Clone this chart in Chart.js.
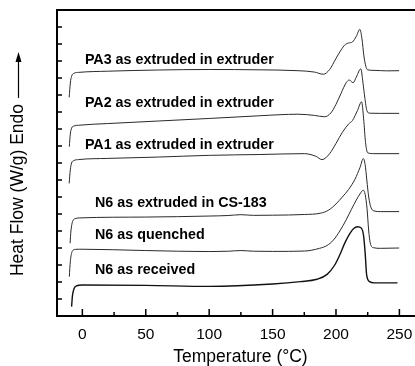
<!DOCTYPE html>
<html>
<head>
<meta charset="utf-8">
<title>DSC curves</title>
<script src="https://cdn.jsdelivr.net/npm/chart.js@4.4.1/dist/chart.umd.min.js"></script>
<style>
    html, body { margin: 0; padding: 0; background: #fff; }
    #dscChart { display: block; }
</style>
</head>
<body>
<canvas id="dscChart" width="415" height="366"></canvas>
<script>
// --- Data (temperature in C / stacked heat flow units) ---

const tempPA3 = [-10.4, -9.5, -8.5, -6.5, -3, 20, 60, 100, 140, 170, 183, 190, 195, 200, 204, 207, 210, 213, 216, 218.8, 220.5, 222, 223.5, 225, 230, 240, 249.8];
const flowPA3 = [12.86, 13.7, 14.1, 14.28, 14.33, 14.4, 14.47, 14.5, 14.48, 14.43, 14.35, 14.22, 14.5, 15.15, 15.65, 15.95, 16.06, 16.12, 16.45, 16.86, 16.3, 15.3, 14.7, 14.48, 14.45, 14.42, 14.43];

const tempPA2 = [-10.3, -9.5, -8.5, -6.5, -3, 20, 60, 100, 140, 170, 183, 191, 196, 200, 204, 208, 210.5, 213.5, 216, 219.6, 221.3, 222.8, 224.3, 226.5, 235, 249.8];
const flowPA2 = [9.96, 10.7, 11.05, 11.18, 11.22, 11.32, 11.47, 11.62, 11.78, 11.87, 11.8, 11.72, 11.95, 12.45, 13.1, 13.72, 13.88, 13.72, 14.05, 14.54, 13.7, 12.8, 12.1, 11.93, 11.92, 11.92];

const tempPA1 = [-10.4, -9.5, -8.5, -6.5, -3, 20, 60, 100, 140, 175, 184, 189, 195, 200, 205, 210, 213, 217, 220.2, 221.8, 223.3, 225, 230, 249.8];
const flowPA1 = [7.8, 8.6, 9.0, 9.15, 9.2, 9.27, 9.35, 9.45, 9.5, 9.55, 9.4, 9.2, 9.55, 10.15, 10.8, 11.3, 11.5, 12.1, 12.6, 11.6, 10.2, 9.6, 9.55, 9.55];

const tempN6ext = [-9.7, -9, -7.5, -5, -2, 50, 100, 115, 125, 135, 150, 175, 188, 194, 200, 205, 210, 215, 219, 221.5, 223, 224.3, 225.8, 227.5, 230, 235, 249.8];
const flowN6ext = [4.28, 5.0, 5.6, 5.74, 5.77, 5.82, 5.88, 5.91, 5.96, 5.92, 5.93, 5.97, 6.05, 6.22, 6.59, 7.0, 7.45, 8.05, 8.75, 9.26, 8.9, 8.0, 7.0, 6.4, 6.18, 6.14, 6.14];

const tempN6que = [-10.3, -9.5, -8, -5.5, -2, 50, 100, 115, 125, 135, 150, 175, 187, 193, 198, 203, 208, 212, 216, 219.5, 221.5, 223, 224.5, 225.8, 227, 229.5, 235, 249.8];
const flowN6que = [2.31, 3.2, 3.8, 3.92, 3.93, 3.85, 3.79, 3.81, 3.85, 3.81, 3.8, 3.82, 3.98, 4.15, 4.47, 5.0, 5.65, 6.25, 6.82, 7.25, 7.4, 7.15, 6.3, 5.0, 4.3, 4.02, 3.98, 4.0];

const tempN6rec = [-8.5, -7.8, -6.5, -4.5, 0, 50, 100, 150, 172, 185, 193, 199, 203, 207, 211, 214, 217, 220, 221.8, 223, 224.2, 226.5, 230, 248.5];
const flowN6rec = [0.55, 1.2, 1.62, 1.78, 1.82, 1.8, 1.74, 1.88, 2.02, 2.16, 2.45, 3.0, 3.6, 4.3, 4.86, 5.15, 5.25, 5.17, 4.7, 3.7, 2.4, 2.02, 1.95, 1.95];

const curveLabels = [
    "PA3 as extruded in extruder",
    "PA2 as extruded in extruder",
    "PA1 as extruded in extruder",
    "N6 as extruded in CS-183",
    "N6 as quenched",
    "N6 as received"
];
// anchor of each label, in data units (left edge, vertical middle)
const labelTemp = [2, 2, 2, 10, 10, 10];
const labelFlow = [15.06, 12.51, 10.06, 6.63, 4.76, 2.71];

const xMajorTicks = [0, 50, 100, 150, 200, 250];
const xMinorTicks = [25, 75, 125, 175, 225];
const yTickCount = 18;

// --- Helpers ---

const FONT = '"Liberation Sans", Arial, Helvetica, sans-serif';

function toPoints(xs, ys) {
    return xs.map((x, i) => ({ x: x, y: ys[i] }));
}

function curve(xs, ys, width, color) {
    return {
        data: toPoints(xs, ys),
        borderColor: color,
        borderWidth: width,
        pointRadius: 0,
        fill: false,
        cubicInterpolationMode: 'monotone'
    };
}

// inward ticks, top frame line, curve labels and axis titles
const decorations = {
    id: 'decorations',
    afterDraw(chart) {
        const { ctx, chartArea: a, scales: { x, y } } = chart;
        ctx.save();

        ctx.strokeStyle = '#000';
        ctx.lineWidth = 2;
        ctx.beginPath();
        ctx.moveTo(a.left - 1, a.top);
        ctx.lineTo(a.right, a.top);
        ctx.stroke();

        ctx.lineWidth = 1.5;
        ctx.beginPath();
        xMajorTicks.forEach(v => {
            const px = x.getPixelForValue(v);
            ctx.moveTo(px, a.bottom);
            ctx.lineTo(px, a.bottom - 7);
        });
        xMinorTicks.forEach(v => {
            const px = x.getPixelForValue(v);
            ctx.moveTo(px, a.bottom);
            ctx.lineTo(px, a.bottom - 4);
        });
        for (let v = 1; v < yTickCount; v++) {
            const py = y.getPixelForValue(v);
            ctx.moveTo(a.left, py);
            ctx.lineTo(a.left + 5, py);
        }
        ctx.stroke();

        // labels on the curves
        ctx.fillStyle = '#000';
        ctx.font = 'bold 14.3px ' + FONT;
        ctx.textAlign = 'left';
        ctx.textBaseline = 'middle';
        curveLabels.forEach((txt, i) => {
            ctx.fillText(txt, x.getPixelForValue(labelTemp[i]), y.getPixelForValue(labelFlow[i]));
        });

        // x title
        ctx.font = '17.5px ' + FONT;
        ctx.textAlign = 'center';
        ctx.fillText('Temperature (\u00B0C)', (a.left + a.right) / 2 + 4.5, 357);

        // y title with the "Endo" arrow
        const yTitle = 'Heat Flow (W/g) Endo';
        const cy = 190, cx = 18.5;
        const half = ctx.measureText(yTitle).width / 2;
        ctx.save();
        ctx.translate(cx, cy);
        ctx.rotate(-Math.PI / 2);
        ctx.fillText(yTitle, 0, 0);
        ctx.restore();

        const tail = cy - half - 6;
        const tip = 52;
        ctx.lineWidth = 1.2;
        ctx.beginPath();
        ctx.moveTo(cx, tail);
        ctx.lineTo(cx, tip + 6);
        ctx.stroke();
        ctx.beginPath();
        ctx.moveTo(cx, tip);
        ctx.lineTo(cx - 3, tip + 10);
        ctx.lineTo(cx + 3, tip + 10);
        ctx.closePath();
        ctx.fill();

        ctx.restore();
    }
};

// --- Chart ---

const ctx = document.getElementById('dscChart').getContext('2d');
new Chart(ctx, {
    type: 'line',
    data: {
        datasets: [
            curve(tempPA3, flowPA3, 1, '#2a2a2a'),
            curve(tempPA2, flowPA2, 1, '#2a2a2a'),
            curve(tempPA1, flowPA1, 1, '#2a2a2a'),
            curve(tempN6ext, flowN6ext, 1, '#2a2a2a'),
            curve(tempN6que, flowN6que, 1, '#2a2a2a'),
            curve(tempN6rec, flowN6rec, 1.4, '#111')
        ]
    },
    options: {
        responsive: false,
        animation: false,
        layout: { padding: { top: 10, left: 0, right: 0, bottom: 0 } },
        plugins: {
            legend: { display: false },
            tooltip: { enabled: false }
        },
        scales: {
            x: {
                type: 'linear',
                min: -20,
                max: 262.3,
                grid: { display: false },
                border: { display: true, color: '#000', width: 2 },
                ticks: {
                    stepSize: 50,
                    includeBounds: false,
                    maxRotation: 0,
                    autoSkip: false,
                    padding: 1,
                    color: '#000',
                    font: { family: FONT, size: 15.5 }
                },
                afterFit: scale => {
                    scale.height = 50;
                    scale.paddingLeft = 0;
                    scale.paddingRight = 0;
                }
            },
            y: {
                type: 'linear',
                min: 0,
                max: yTickCount,
                grid: { display: false },
                border: { display: true, color: '#000', width: 2 },
                ticks: { display: false, stepSize: 1 },
                afterFit: scale => { scale.width = 57; }
            }
        }
    },
    plugins: [decorations]
});
</script>
</body>
</html>
